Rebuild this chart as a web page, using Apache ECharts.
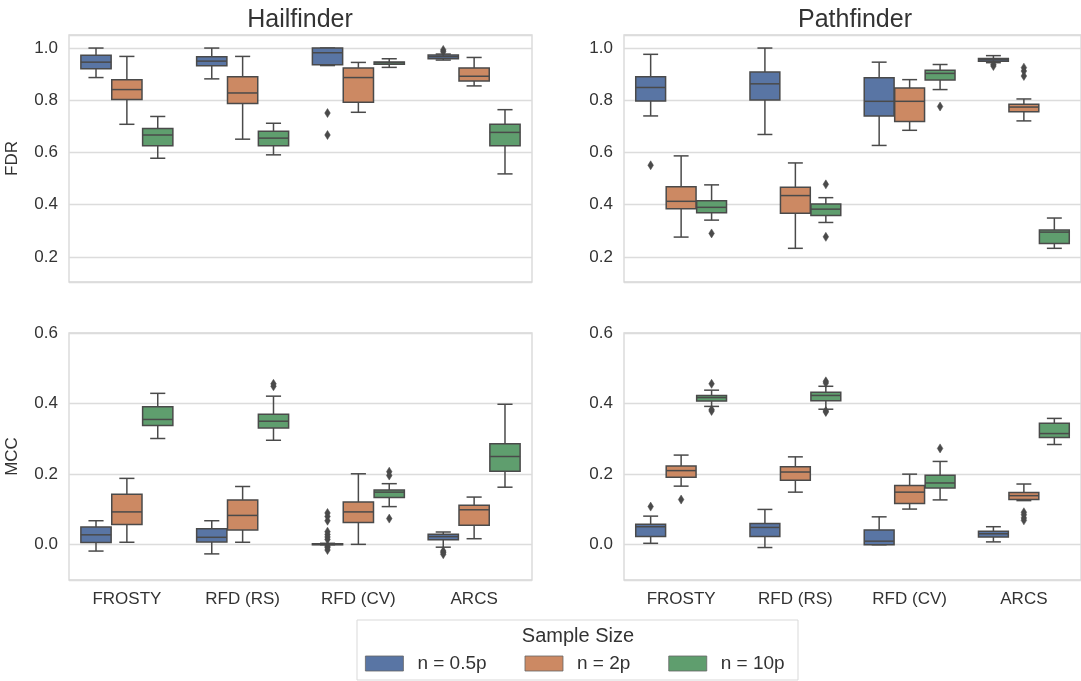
<!DOCTYPE html>
<html>
<head>
<meta charset="utf-8">
<script src="https://cdn.jsdelivr.net/npm/echarts@6/dist/echarts.min.js"></script>
<style>html,body{margin:0;padding:0;background:#fff;}#chart{width:1081px;height:681px;}</style>
</head>
<body>
<div id="chart"></div>
<script>
// ---------- data ----------
const categories = ['FROSTY', 'RFD (RS)', 'RFD (CV)', 'ARCS'];
const hueNames = ['n = 0.5p', 'n = 2p', 'n = 10p'];
const panelTitles = ['Hailfinder', 'Pathfinder'];
const rowLabels = ['FDR', 'MCC'];
const legendTitle = 'Sample Size';

// each box: [lowWhisker, Q1, median, Q3, highWhisker], one per category
const hailFDR_05 = [[0.887, 0.921, 0.946, 0.972, 1.0], [0.882, 0.932, 0.95, 0.967, 1.0], [0.933, 0.936, 0.982, 1.0, 1.0], [0.954, 0.959, 0.967, 0.973, 0.977]];
const hailFDR_2 = [[0.708, 0.803, 0.841, 0.879, 0.968], [0.651, 0.788, 0.828, 0.890, 0.968], [0.754, 0.792, 0.887, 0.924, 0.945], [0.855, 0.874, 0.892, 0.924, 0.964]];
const hailFDR_10 = [[0.578, 0.626, 0.667, 0.692, 0.738], [0.591, 0.626, 0.655, 0.681, 0.712], [0.926, 0.938, 0.944, 0.947, 0.959], [0.518, 0.626, 0.677, 0.708, 0.764]];

const pathFDR_05 = [[0.740, 0.797, 0.849, 0.890, 0.976], [0.669, 0.801, 0.863, 0.908, 1.0], [0.627, 0.740, 0.796, 0.886, 0.946], [0.944, 0.949, 0.955, 0.960, 0.971]];
const pathFDR_2 = [[0.276, 0.385, 0.413, 0.469, 0.587], [0.233, 0.367, 0.435, 0.467, 0.560], [0.685, 0.719, 0.796, 0.847, 0.879], [0.721, 0.756, 0.774, 0.785, 0.805]];
const pathFDR_10 = [[0.341, 0.369, 0.390, 0.415, 0.476], [0.332, 0.359, 0.383, 0.403, 0.427], [0.841, 0.878, 0.903, 0.915, 0.937], [0.233, 0.251, 0.295, 0.303, 0.349]];

const hailMCC_05 = [[-0.018, 0.006, 0.028, 0.050, 0.068], [-0.026, 0.008, 0.021, 0.045, 0.068], [0, 0, 0.001, 0.003, 0.004], [-0.007, 0.014, 0.023, 0.030, 0.036]];
const hailMCC_2 = [[0.007, 0.057, 0.093, 0.143, 0.188], [0.007, 0.042, 0.083, 0.127, 0.165], [0.001, 0.063, 0.093, 0.121, 0.201], [0.017, 0.055, 0.099, 0.112, 0.135]];
const hailMCC_10 = [[0.301, 0.338, 0.355, 0.391, 0.429], [0.296, 0.331, 0.350, 0.370, 0.421], [0.108, 0.134, 0.149, 0.155, 0.173], [0.163, 0.208, 0.250, 0.286, 0.398]];

const pathMCC_05 = [[0.004, 0.023, 0.051, 0.058, 0.081], [-0.008, 0.023, 0.049, 0.060, 0.100], [0, 0, 0.010, 0.042, 0.079], [0.008, 0.022, 0.031, 0.038, 0.051]];
const pathMCC_2 = [[0.166, 0.191, 0.210, 0.223, 0.254], [0.149, 0.183, 0.206, 0.221, 0.249], [0.101, 0.117, 0.149, 0.168, 0.200], [0.125, 0.128, 0.139, 0.148, 0.172]];
const pathMCC_10 = [[0.392, 0.407, 0.417, 0.423, 0.438], [0.384, 0.408, 0.423, 0.432, 0.449], [0.127, 0.161, 0.175, 0.197, 0.236], [0.284, 0.304, 0.315, 0.344, 0.358]];

// outliers: [categoryIndex, value]
const hailFDR_05_out = [[2, 0.751], [2, 0.667], [3, 0.993], [3, 0.986]];
const hailFDR_2_out = [];
const hailFDR_10_out = [];
const pathFDR_05_out = [[0, 0.551], [3, 0.937], [3, 0.931]];
const pathFDR_2_out = [[3, 0.925], [3, 0.912], [3, 0.893]];
const pathFDR_10_out = [[0, 0.290], [1, 0.478], [1, 0.277], [2, 0.776]];
const hailMCC_05_out = [[2, 0.090], [2, 0.080], [2, 0.068], [2, 0.037], [2, 0.029], [2, 0.022], [2, 0.015], [2, -0.004], [2, -0.008], [2, -0.015], [3, -0.018], [3, -0.022], [3, -0.027]];
const hailMCC_2_out = [];
const hailMCC_10_out = [[1, 0.456], [1, 0.449], [2, 0.207], [2, 0.196], [2, 0.074]];
const pathMCC_05_out = [[0, 0.108]];
const pathMCC_2_out = [[0, 0.128], [3, 0.092], [3, 0.085], [3, 0.076], [3, 0.069]];
const pathMCC_10_out = [[0, 0.456], [0, 0.383], [0, 0.379], [1, 0.463], [1, 0.458], [1, 0.379], [1, 0.376], [2, 0.273]];

// ---------- styling / layout ----------
const FONT = '"Liberation Sans", Arial, sans-serif';
const colors = ['#5975a4', '#cc8963', '#5f9e6e'];
const LINE = '#4a4a4a';
const LW = 1.5;
const GRID_COLOR = '#dcdcdc';
const TEXT = '#333333';
const GROUP_WIDTH = 0.8;

const panels = [
  { boxes: [hailFDR_05, hailFDR_2, hailFDR_10], outs: [hailFDR_05_out, hailFDR_2_out, hailFDR_10_out], left: 69, top: 35, yMin: 0.104, yMax: 1.05, split: 5, showX: false, yName: rowLabels[0] },
  { boxes: [pathFDR_05, pathFDR_2, pathFDR_10], outs: [pathFDR_05_out, pathFDR_2_out, pathFDR_10_out], left: 624, top: 35, yMin: 0.104, yMax: 1.05, split: 5, showX: false, yName: '' },
  { boxes: [hailMCC_05, hailMCC_2, hailMCC_10], outs: [hailMCC_05_out, hailMCC_2_out, hailMCC_10_out], left: 69, top: 333, yMin: -0.1, yMax: 0.6, split: 3, showX: true, yName: rowLabels[1] },
  { boxes: [pathMCC_05, pathMCC_2, pathMCC_10], outs: [pathMCC_05_out, pathMCC_2_out, pathMCC_10_out], left: 624, top: 333, yMin: -0.1, yMax: 0.6, split: 3, showX: true, yName: '' }
];

function boxRenderer(h) {
  return function (params, api) {
    const cat = api.value(0);
    const band = api.size([1, 0])[0];
    const step = band * GROUP_WIDTH / 3;
    const bw = step * 0.98;
    const cx = api.coord([cat, 0])[0] + (h - 1) * step;
    const y = [1, 2, 3, 4, 5].map(i => api.coord([cat, api.value(i)])[1]);
    const ls = { stroke: LINE, lineWidth: LW };
    return {
      type: 'group',
      children: [
        { type: 'line', shape: { x1: cx, y1: y[0], x2: cx, y2: y[1] }, style: ls },
        { type: 'line', shape: { x1: cx, y1: y[3], x2: cx, y2: y[4] }, style: ls },
        { type: 'line', shape: { x1: cx - bw / 4, y1: y[0], x2: cx + bw / 4, y2: y[0] }, style: ls },
        { type: 'line', shape: { x1: cx - bw / 4, y1: y[4], x2: cx + bw / 4, y2: y[4] }, style: ls },
        { type: 'rect', shape: { x: cx - bw / 2, y: y[3], width: bw, height: y[1] - y[3] }, style: { fill: colors[h], stroke: LINE, lineWidth: LW } },
        { type: 'line', shape: { x1: cx - bw / 2, y1: y[2], x2: cx + bw / 2, y2: y[2] }, style: ls }
      ]
    };
  };
}

function outlierRenderer(h) {
  return function (params, api) {
    const cat = api.value(0);
    const band = api.size([1, 0])[0];
    const step = band * GROUP_WIDTH / 3;
    const p = api.coord([cat, api.value(1)]);
    const cx = p[0] + (h - 1) * step;
    const cy = p[1];
    return {
      type: 'polygon',
      shape: { points: [[cx, cy - 4.5], [cx + 2.8, cy], [cx, cy + 4.5], [cx - 2.8, cy]] },
      style: { fill: LINE, stroke: LINE, lineWidth: 0.5 }
    };
  };
}

const grids = [], xAxes = [], yAxes = [], series = [];
panels.forEach((pn, i) => {
  grids.push({ left: pn.left, top: pn.top, width: 463, height: 247, show: true, borderColor: '#d6d6d6', borderWidth: 1.3, backgroundColor: '#fff' });
  xAxes.push({
    type: 'category', gridIndex: i, data: categories,
    axisLine: { show: false }, axisTick: { show: false }, splitLine: { show: false },
    axisLabel: { show: pn.showX, fontSize: 17, color: TEXT, fontFamily: FONT, margin: 11 }
  });
  yAxes.push({
    type: 'value', gridIndex: i, min: pn.yMin, max: pn.yMax, splitNumber: pn.split,
    name: pn.yName, nameLocation: 'middle', nameGap: 48,
    nameTextStyle: { fontSize: 17, color: TEXT, fontFamily: FONT },
    axisLine: { show: false }, axisTick: { show: false },
    axisLabel: { fontSize: 17, color: TEXT, fontFamily: FONT, margin: 11, showMinLabel: false, showMaxLabel: pn.yMax === 0.6, formatter: v => v.toFixed(1) },
    splitLine: { show: true, lineStyle: { color: GRID_COLOR, width: 1.3 } }
  });
  for (let h = 0; h < 3; h++) {
    series.push({
      type: 'custom', name: hueNames[h], xAxisIndex: i, yAxisIndex: i,
      itemStyle: { color: colors[h] },
      renderItem: boxRenderer(h),
      encode: { x: 0, y: [1, 2, 3, 4, 5] },
      data: pn.boxes[h].map((b, c) => [c].concat(b)),
      z: 3
    });
    series.push({
      type: 'custom', name: 'outliers ' + hueNames[h], xAxisIndex: i, yAxisIndex: i,
      itemStyle: { color: LINE },
      renderItem: outlierRenderer(h),
      encode: { x: 0, y: 1 },
      data: pn.outs[h],
      z: 4
    });
  }
});

const chart = echarts.init(document.getElementById('chart'), null, { renderer: 'canvas' });
chart.setOption({
  backgroundColor: '#ffffff',
  animation: false,
  textStyle: { fontFamily: FONT },
  grid: grids,
  xAxis: xAxes,
  yAxis: yAxes,
  series: series,
  legend: {
    data: hueNames,
    left: 365, top: 654, padding: 0,
    icon: 'rect', itemWidth: 38, itemHeight: 15, itemGap: 38,
    itemStyle: { borderColor: '#666', borderWidth: 0.8 },
    textStyle: { fontSize: 19, color: TEXT, fontFamily: FONT, padding: [0, 0, 0, 9] },
    selectedMode: false
  },
  graphic: [
    { type: 'text', x: 300, y: 20, style: { text: panelTitles[0], textAlign: 'center', textVerticalAlign: 'middle', fontSize: 25, fontFamily: FONT, fill: TEXT } },
    { type: 'text', x: 855, y: 20, style: { text: panelTitles[1], textAlign: 'center', textVerticalAlign: 'middle', fontSize: 25, fontFamily: FONT, fill: TEXT } },
    { type: 'rect', z: -1, shape: { x: 357, y: 620, width: 441, height: 60 }, style: { fill: '#fff', stroke: '#d9d9d9', lineWidth: 1 } },
    { type: 'text', x: 578, y: 636, style: { text: legendTitle, textAlign: 'center', textVerticalAlign: 'middle', fontSize: 20, fontFamily: FONT, fill: TEXT } }
  ]
});
</script>
</body>
</html>
